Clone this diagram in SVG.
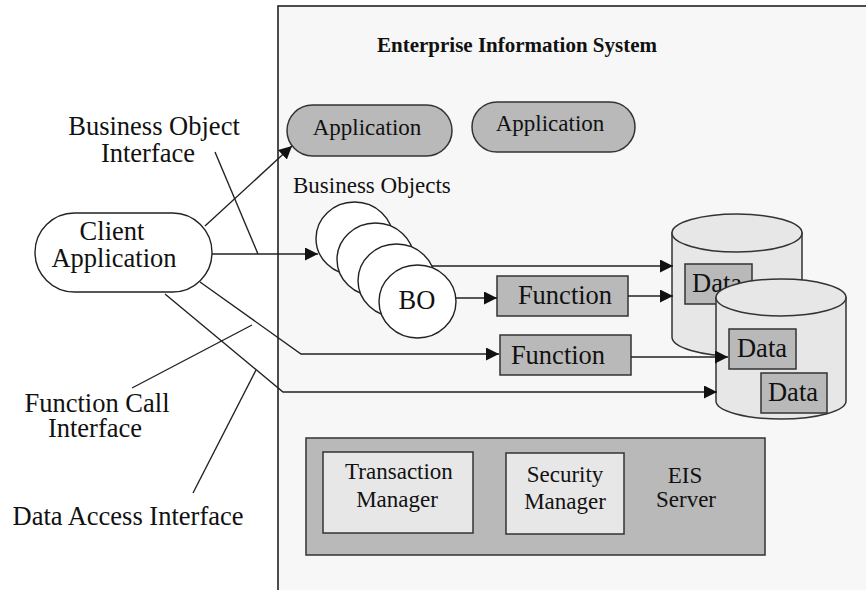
<svg xmlns="http://www.w3.org/2000/svg" width="866" height="590" viewBox="0 0 866 590">
  <style>
    text { font-family: "Liberation Serif", "Times New Roman", serif; font-size: 23px; fill: #111; }
    .big { font-size: 26.5px; }
    .title { font-weight: bold; font-size: 21px; }
    .mid { text-anchor: middle; }
    .frame { fill: #f7f7f7; stroke: #222; stroke-width: 1.6; }
    .dark { fill: #b9b9b9; stroke: #333; stroke-width: 1.5; }
    .light { fill: #e7e7e7; stroke: #333; stroke-width: 1.5; }
    .white { fill: #ffffff; stroke: #222; stroke-width: 1.4; }
    .wire { fill: none; stroke: #222; stroke-width: 1.4; }
    .arrow { marker-end: url(#head); }
  </style>
  <defs>
    <marker id="head" markerUnits="userSpaceOnUse" markerWidth="13" markerHeight="13" refX="13" refY="6.5" orient="auto">
      <path d="M0,0 L13,6.5 L0,13 z" fill="#111"/>
    </marker>
  </defs>

  <rect width="866" height="590" fill="#ffffff"/>

  <!-- enterprise information system container, runs off the right and bottom edges -->
  <g id="eis">
    <rect class="frame" x="278" y="6" width="600" height="600"/>
    <text class="title mid" x="517" y="52">Enterprise Information System</text>
  </g>

  <g id="client-application">
    <rect class="white" x="35" y="213" width="177" height="79" rx="39.5"/>
    <text class="big mid" x="112" y="240">Client</text>
    <text class="big mid" x="114" y="267">Application</text>
  </g>

  <g id="application-1">
    <rect class="dark" x="287" y="105" width="165" height="51" rx="25.5"/>
    <text class="mid" x="367" y="135">Application</text>
  </g>

  <g id="application-2">
    <rect class="dark" x="472" y="102" width="163" height="50" rx="25"/>
    <text class="mid" x="550" y="131">Application</text>
  </g>

  <g id="business-objects">
    <text x="293" y="193">Business Objects</text>
    <ellipse class="white" cx="354.5" cy="238.5" rx="38.5" ry="36.5"/>
    <ellipse class="white" cx="375.5" cy="259.5" rx="38.5" ry="36.5"/>
    <ellipse class="white" cx="396.5" cy="280.5" rx="38.5" ry="36.5"/>
    <ellipse class="white" cx="417.5" cy="301.5" rx="38.5" ry="36.5"/>
    <text class="big mid" x="417" y="309">BO</text>
  </g>

  <g id="function-1">
    <rect class="dark" x="497" y="276" width="131" height="40"/>
    <text class="big mid" x="565" y="304">Function</text>
  </g>

  <g id="function-2">
    <rect class="dark" x="500" y="335" width="131" height="40"/>
    <text class="big mid" x="558" y="364">Function</text>
  </g>

  <g id="database-1">
    <path class="light" d="M672,233 V337 A65,19 0 0 0 802,337 V233 Z"/>
    <ellipse class="light" cx="737" cy="233" rx="65" ry="19"/>
    <rect class="dark" x="685" y="264" width="67" height="40"/>
    <text class="big" x="692" y="292" font-size="26">Data</text>
  </g>

  <g id="database-2">
    <path class="light" d="M716,297.5 V401 A65,18 0 0 0 846,401 V297.5 Z"/>
    <ellipse class="light" cx="781" cy="297.5" rx="65" ry="18.5"/>
    <rect class="dark" x="729" y="329" width="67" height="40"/>
    <text class="big mid" x="762" y="357">Data</text>
    <rect class="dark" x="761" y="373" width="66" height="40"/>
    <text class="big mid" x="793" y="401">Data</text>
  </g>

  <g id="eis-server">
    <rect class="dark" x="306" y="438" width="459" height="117"/>
    <text class="mid" x="685" y="483">EIS</text>
    <text class="mid" x="686" y="507">Server</text>
  </g>

  <g id="transaction-manager">
    <rect class="light" x="323" y="452" width="150" height="81"/>
    <text class="mid" x="399" y="479">Transaction</text>
    <text class="mid" x="397" y="507">Manager</text>
  </g>

  <g id="security-manager">
    <rect class="light" x="506" y="453" width="118" height="81"/>
    <text class="mid" x="565" y="482">Security</text>
    <text class="mid" x="565" y="509">Manager</text>
  </g>

  <!-- connectors and label leaders -->
  <g id="connectors">
    <line class="wire arrow" x1="205" y1="226" x2="292" y2="146"/>
    <line class="wire arrow" x1="212" y1="254" x2="318" y2="254"/>
    <line class="wire arrow" x1="432" y1="266" x2="673" y2="266"/>
    <line class="wire arrow" x1="456" y1="298" x2="497" y2="298"/>
    <line class="wire arrow" x1="628" y1="296" x2="673" y2="296"/>
    <polyline class="wire arrow" points="200,282 301,354 499,354"/>
    <line class="wire arrow" x1="631" y1="357" x2="728" y2="357"/>
    <polyline class="wire arrow" points="165,294 283,392 717,392"/>
    <!-- leaders from the interface labels -->
    <line class="wire" x1="215" y1="152" x2="258" y2="254"/>
    <line class="wire" x1="252" y1="325" x2="132" y2="388"/>
    <line class="wire" x1="256" y1="370" x2="193" y2="493"/>
  </g>

  <g id="interface-labels">
    <text class="big mid" x="154" y="135">Business Object</text>
    <text class="big mid" x="148" y="162">Interface</text>
    <text class="big mid" x="97" y="412">Function Call</text>
    <text class="big mid" x="95" y="437">Interface</text>
    <text class="big mid" x="128" y="525">Data Access Interface</text>
  </g>
</svg>
